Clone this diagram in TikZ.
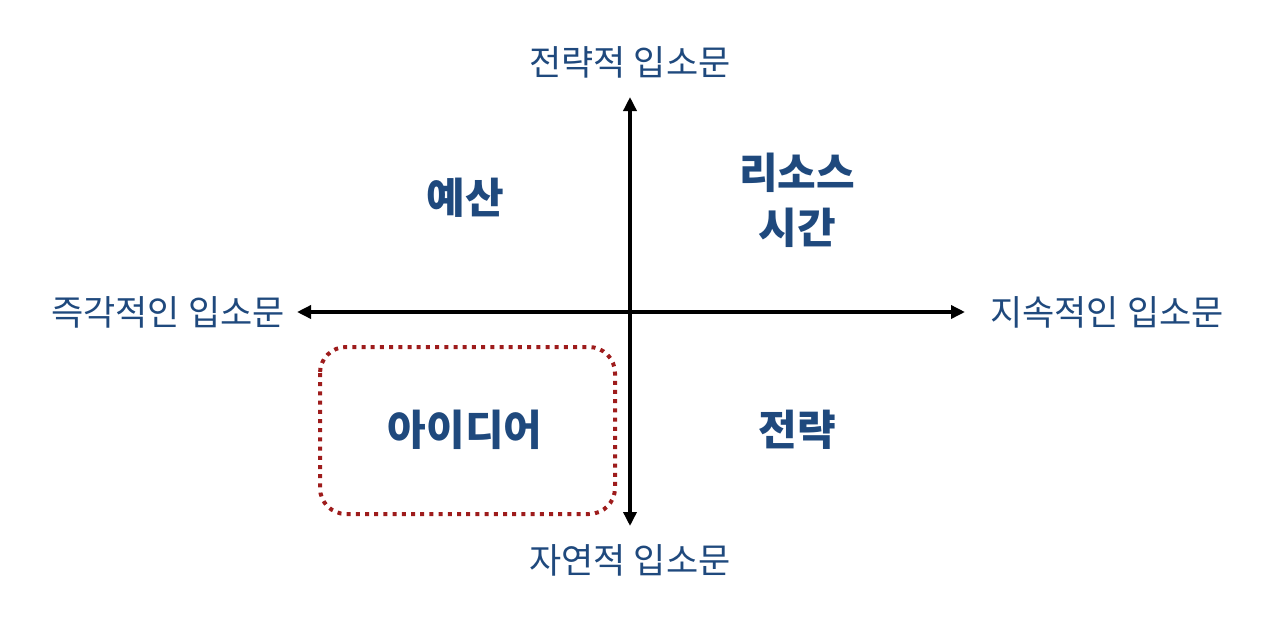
\documentclass[tikz,border=0pt]{standalone}
\usepackage{fontspec}
\newfontfamily\kr{Noto Sans CJK KR}
\usetikzlibrary{arrows.meta, positioning}
\definecolor{navy}{RGB}{31,73,125}
\definecolor{darkred}{RGB}{158,28,28}
\tikzset{
  axislabel/.style={font=\kr\fontsize{17.5}{20}\selectfont, text=navy},
  quadlabel/.style={font=\kr\bfseries\fontsize{21}{27.5}\selectfont, text=navy, align=center},
  axis/.style={line width=1.7pt, -{Triangle[length=7pt,width=6.5pt]}}
}
\begin{document}
\begin{tikzpicture}[x=0.5pt,y=-0.5pt]
\useasboundingbox (0,0) rectangle (1280,633);
% axes
\coordinate (O) at (630,312);
\coordinate (west) at (297,312);
\coordinate (east) at (965,312);
\coordinate (north) at (630,97);
\coordinate (south) at (630,526);
\draw[axis] (O) -- (west);
\draw[axis] (O) -- (east);
\draw[axis] (O) -- (north);
\draw[axis] (O) -- (south);
% axis labels
\node[axislabel] (top) at (630,62) {전략적 입소문};
\node[axislabel] (bottom) at (630,560) {자연적 입소문};
\node[axislabel] (left) at (168,312) {즉각적인 입소문};
\node[axislabel] (right) at (1107,312) {지속적인 입소문};
% quadrants
\node[quadlabel] (budget) at (465,198) {예산};
\node[quadlabel] (resource) at (797,200) {리소스\\시간};
\node[quadlabel] (idea) at (465,430) {아이디어};
\node[quadlabel] (strategy) at (797,430) {전략};
% highlight round the idea
\draw[darkred, line width=2pt, dash pattern=on 2pt off 2.6pt, rounded corners=13pt]
  (320,347) rectangle (615,514);
\end{tikzpicture}
\end{document}
